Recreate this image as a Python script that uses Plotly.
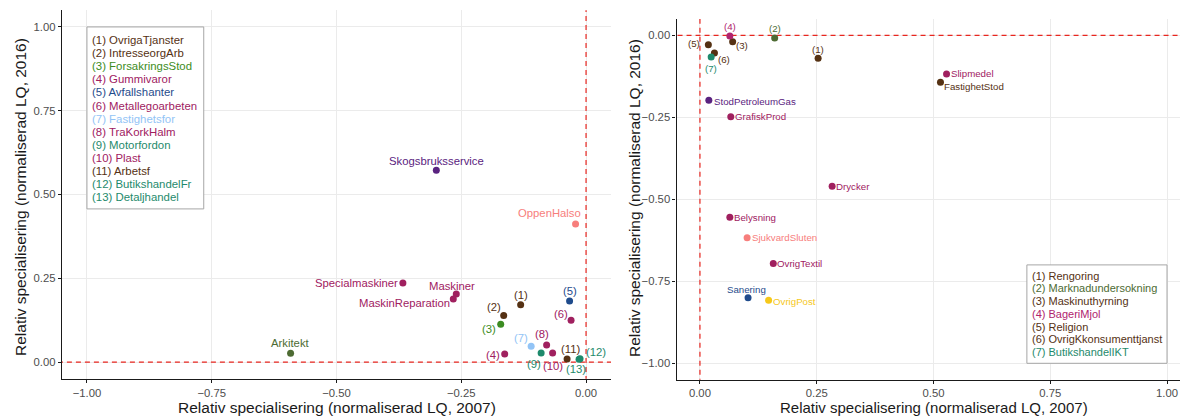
import plotly.graph_objects as go

FONT = "Liberation Sans, Arial, Helvetica, sans-serif"

# ---------------- data: left panel (sectors with negative 2007 values) ----------------
left_num_names = ["OvrigaTjanster", "IntresseorgArb", "ForsakringsStod", "Gummivaror",
                  "Avfallshanter", "Metallegoarbeten", "Fastighetsfor", "TraKorkHalm",
                  "Motorfordon", "Plast", "Arbetsf", "ButikshandelFr", "Detaljhandel"]
left_num_x = [-0.131, -0.165, -0.171, -0.163, -0.033, -0.030, -0.110, -0.079,
              -0.090, -0.067, -0.038, -0.012, -0.014]
left_num_y = [0.171, 0.139, 0.113, 0.024, 0.182, 0.125, 0.047, 0.051,
              0.027, 0.027, 0.009, 0.010, 0.008]

left_named = ["Skogsbruksservice", "OppenHalso", "Specialmaskiner", "Maskiner",
              "MaskinReparation", "Arkitekt"]
left_named_x = [-0.300, -0.021, -0.367, -0.260, -0.266, -0.592]
left_named_y = [0.572, 0.412, 0.236, 0.203, 0.188, 0.026]

# ---------------- data: right panel (sectors with negative 2016 values) ----------------
right_num_names = ["Rengoring", "Marknadundersokning", "Maskinuthyrning", "BageriMjol",
                   "Religion", "OvrigKkonsumenttjanst", "ButikshandelIKT"]
right_num_x = [0.253, 0.160, 0.070, 0.064, 0.018, 0.031, 0.024]
right_num_y = [-0.070, -0.008, -0.020, -0.002, -0.029, -0.054, -0.066]

right_named = ["Slipmedel", "FastighetStod", "StodPetroleumGas", "GrafiskProd", "Drycker",
               "Belysning", "SjukvardSluten", "OvrigTextil", "Sanering", "OvrigPost"]
right_named_x = [0.528, 0.515, 0.019, 0.066, 0.283, 0.064, 0.101, 0.157, 0.103, 0.147]
right_named_y = [-0.118, -0.143, -0.198, -0.248, -0.460, -0.555, -0.617, -0.696, -0.800, -0.808]

x_ticks_left = [-1.0, -0.75, -0.5, -0.25, 0.0]
y_ticks_left = [0.0, 0.25, 0.5, 0.75, 1.0]
x_ticks_right = [0.0, 0.25, 0.5, 0.75, 1.0]
y_ticks_right = [-1.0, -0.75, -0.5, -0.25, 0.0]

AXIS_TITLE_X = "Relativ specialisering (normaliserad LQ, 2007)"
AXIS_TITLE_Y = "Relativ specialisering (normaliserad LQ, 2016)"

# ---------------- styles ----------------
BROWN = "#553113"
GREEN = "#3C8C22"
MAGENTA = "#A0205F"
NAVY = "#1F4B8C"
LIGHTBLUE = "#92C4F6"
TEAL = "#1E8A6C"
PURPLE = "#5A2380"
SALMON = "#F77E7C"
OLIVE = "#4D6B33"
YELLOW = "#F6C81A"

COLOR = {
    "OvrigaTjanster": BROWN, "IntresseorgArb": BROWN, "ForsakringsStod": GREEN,
    "Gummivaror": MAGENTA, "Avfallshanter": NAVY, "Metallegoarbeten": MAGENTA,
    "Fastighetsfor": LIGHTBLUE, "TraKorkHalm": MAGENTA, "Motorfordon": TEAL,
    "Plast": MAGENTA, "Arbetsf": BROWN, "ButikshandelFr": TEAL, "Detaljhandel": TEAL,
    "Skogsbruksservice": PURPLE, "OppenHalso": SALMON, "Specialmaskiner": MAGENTA,
    "Maskiner": MAGENTA, "MaskinReparation": MAGENTA, "Arkitekt": OLIVE,
    "Rengoring": BROWN, "Marknadundersokning": OLIVE, "Maskinuthyrning": BROWN,
    "BageriMjol": "#B0236E", "Religion": BROWN, "OvrigKkonsumenttjanst": BROWN,
    "ButikshandelIKT": TEAL, "Slipmedel": MAGENTA, "FastighetStod": BROWN,
    "StodPetroleumGas": PURPLE, "GrafiskProd": MAGENTA, "Drycker": MAGENTA,
    "Belysning": MAGENTA, "SjukvardSluten": SALMON, "OvrigTextil": MAGENTA,
    "Sanering": NAVY, "OvrigPost": YELLOW,
}

# label placement: (xshift px, yshift px, xanchor)
LEFT_NUM_POS = [(0, 10, "center"), (-10, 8, "center"), (-12, -5, "center"), (-12, -1, "center"),
                (0, 10, "center"), (-10.5, 6.5, "center"), (-10, 8, "center"), (-5, 10.5, "center"),
                (-7.5, -11, "center"), (0, -12.5, "center"), (3, 10, "center"), (16, 7, "center"),
                (-3, -10, "center")]
LEFT_NAMED_POS = {"Skogsbruksservice": (0, 9.5, "center"), "OppenHalso": (-26, 10.5, "center"),
                  "Specialmaskiner": (-5, 0, "right"), "Maskiner": (-4, 8.5, "center"),
                  "MaskinReparation": (-3, -3.5, "right"), "Arkitekt": (0, 10, "center")}
RIGHT_NUM_POS = [(0, 8.5, "center"), (0, 9, "center"), (9.5, -4, "center"), (0, 9.3, "center"),
                 (-14, 1.5, "center"), (9.5, -6.3, "center"), (0, -11.3, "center")]
RIGHT_NAMED_POS = {"Slipmedel": (4.5, 0, "left"), "FastighetStod": (4, -4.3, "left"),
                   "StodPetroleumGas": (5, -1, "left"), "GrafiskProd": (4, 0, "left"),
                   "Drycker": (4, 0, "left"), "Belysning": (4.5, 0, "left"),
                   "SjukvardSluten": (5, 0, "left"), "OvrigTextil": (3.5, 0, "left"),
                   "Sanering": (-2, 8, "center"), "OvrigPost": (4, -1, "left")}

W, H = 1180, 416
LEFT_DOM_X = [62 / W, 611 / W]
LEFT_DOM_Y = [(H - 378.8) / H, (H - 10.2) / H]
RIGHT_DOM_X = [676.6 / W, 1.0]
RIGHT_DOM_Y = [(H - 379.7) / H, (H - 18.9) / H]
LEFT_RANGE_X = [-1.05, 0.05]
LEFT_RANGE_Y = [-0.05, 1.05]
RIGHT_RANGE_X = [-0.05, (1180 - 700) / 467]
RIGHT_RANGE_Y = [-1.05, 0.05]

fig = go.Figure()
annotations = []
shapes = []


def add_panel(xa, ya, names, xs, ys):
    fig.add_trace(go.Scatter(
        x=xs, y=ys, mode="markers", xaxis=xa, yaxis=ya,
        marker=dict(size=7, color=[COLOR[n] for n in names], line=dict(width=0)),
        hoverinfo="skip", showlegend=False, cliponaxis=False))


def add_labels(xa, ya, texts, names, xs, ys, positions, size):
    for t, n, x, y, (dx, dy, anc) in zip(texts, names, xs, ys, positions):
        annotations.append(dict(
            x=x, y=y, xref=xa, yref=ya, text=t, showarrow=False,
            xanchor=anc, yanchor="middle", xshift=dx, yshift=dy,
            borderpad=0, borderwidth=0,
            font=dict(family=FONT, size=size, color=COLOR[n])))


# left panel
add_panel("x", "y", left_num_names + left_named, left_num_x + left_named_x, left_num_y + left_named_y)
add_labels("x", "y", [f"({i + 1})" for i in range(len(left_num_names))], left_num_names,
           left_num_x, left_num_y, LEFT_NUM_POS, 11.3)
add_labels("x", "y", left_named, left_named, left_named_x, left_named_y,
           [LEFT_NAMED_POS[n] for n in left_named], 11.3)

# right panel
add_panel("x2", "y2", right_num_names + right_named, right_num_x + right_named_x,
          right_num_y + right_named_y)
add_labels("x2", "y2", [f"({i + 1})" for i in range(len(right_num_names))], right_num_names,
           right_num_x, right_num_y, RIGHT_NUM_POS, 9.7)
add_labels("x2", "y2", right_named, right_named, right_named_x, right_named_y,
           [RIGHT_NAMED_POS[n] for n in right_named], 9.7)


def legend_box(xa, ya, names, x0, x1, y0, y1, tx, ty0, step, size):
    shapes.append(dict(type="rect", xref=xa, yref=ya, x0=x0, x1=x1, y0=y0, y1=y1,
                       line=dict(color="#A6A6A6", width=1), fillcolor="white", layer="between"))
    for i, n in enumerate(names):
        annotations.append(dict(
            x=tx, y=ty0 - i * step, xref=xa, yref=ya, text=f"({i + 1}) {n}",
            showarrow=False, xanchor="left", yanchor="middle", borderpad=0, borderwidth=0,
            font=dict(family=FONT, size=size, color=COLOR[n])))


legend_box("x", "y", left_num_names, -1.0, -0.766, 1.0, 0.457, -0.99, 0.961, 0.0391, 11.4)
legend_box("x2", "y2", right_num_names, 0.700, 1.0, -0.700, -1.0, 0.711, -0.733, 0.0387, 11)


def ref_lines(xa, ya, rx, ry):
    # dashed reference lines at zero, spanning (and clipped to) the whole panel
    red = dict(color="#E8261F", width=1.2, dash="5px,4px")
    shapes.append(dict(type="line", xref=xa, yref=ya, x0=0, x1=0, y0=ry[0] - 1, y1=ry[1] + 1,
                       line=red, layer="between"))
    shapes.append(dict(type="line", xref=xa, yref=ya, x0=rx[0] - 1, x1=rx[1] + 1, y0=0, y1=0,
                       line=red, layer="between"))


ref_lines("x", "y", LEFT_RANGE_X, LEFT_RANGE_Y)
ref_lines("x2", "y2", RIGHT_RANGE_X, RIGHT_RANGE_Y)

# axis titles
title_font = dict(family=FONT, size=15.5, color="#1A1A1A")
annotations += [
    dict(text=AXIS_TITLE_X, xref="paper", yref="paper", x=337 / W, y=(H - 407) / H,
         showarrow=False, xanchor="center", yanchor="middle", font=title_font),
    dict(text=AXIS_TITLE_X, xref="paper", yref="paper", x=934 / W, y=(H - 407) / H,
         showarrow=False, xanchor="center", yanchor="middle",
         font=dict(family=FONT, size=15, color="#1A1A1A")),
    dict(text=AXIS_TITLE_Y, xref="paper", yref="paper", x=20 / W, y=(H - 197) / H,
         showarrow=False, xanchor="center", yanchor="middle", textangle=-90, font=title_font),
    dict(text=AXIS_TITLE_Y, xref="paper", yref="paper", x=634 / W, y=(H - 198) / H,
         showarrow=False, xanchor="center", yanchor="middle", textangle=-90, font=title_font),
]

axis_common = dict(
    showgrid=True, gridcolor="#EBEBEB", gridwidth=1, zeroline=False,
    showline=True, linecolor="#1A1A1A", linewidth=1.3, mirror=False,
    ticks="outside", ticklen=3, tickwidth=1, tickcolor="#1A1A1A",
    tickformat=".2f", tickfont=dict(family=FONT, size=11.3, color="#4D4D4D"),
    fixedrange=True,
)

fig.update_layout(
    width=W, height=H, margin=dict(l=0, r=0, t=0, b=0),
    paper_bgcolor="white", plot_bgcolor="white",
    xaxis=dict(domain=LEFT_DOM_X, range=LEFT_RANGE_X, tickvals=x_ticks_left,
               anchor="y", **axis_common),
    yaxis=dict(domain=LEFT_DOM_Y, range=LEFT_RANGE_Y, tickvals=y_ticks_left,
               anchor="x", **axis_common),
    xaxis2=dict(domain=RIGHT_DOM_X, range=RIGHT_RANGE_X, tickvals=x_ticks_right,
                anchor="y2", **axis_common),
    yaxis2=dict(domain=RIGHT_DOM_Y, range=RIGHT_RANGE_Y, tickvals=y_ticks_right,
                anchor="x2", **axis_common),
    annotations=annotations,
    shapes=shapes,
    showlegend=False,
)

fig.write_html("out.html")
